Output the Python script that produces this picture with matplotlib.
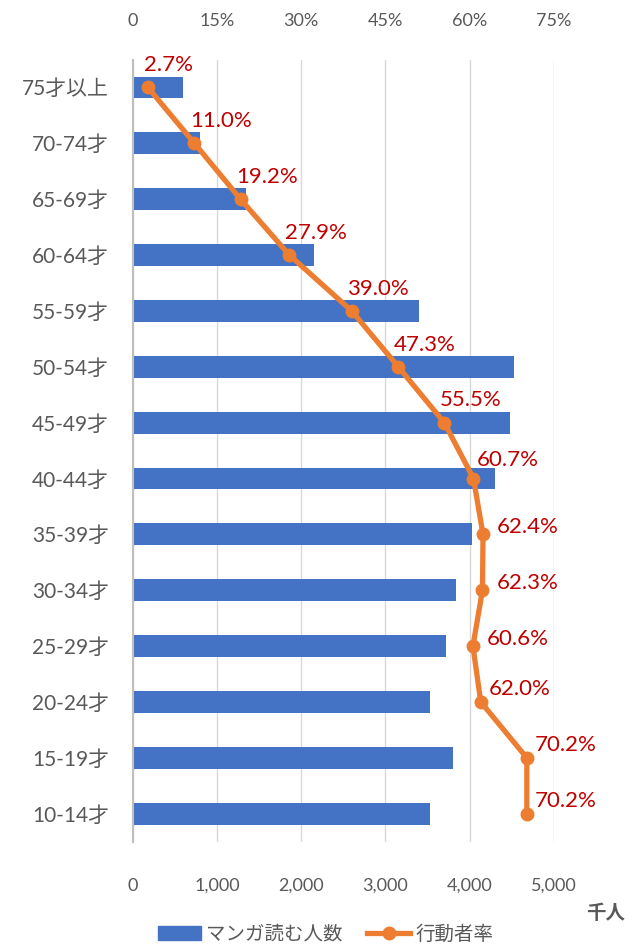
import matplotlib
matplotlib.use('Agg')
import matplotlib.pyplot as plt
import numpy as np
from matplotlib.lines import Line2D
from matplotlib.patches import Patch

plt.rcParams['font.family'] = ['Lato', 'Noto Sans CJK JP', 'DejaVu Sans']

####################################################
# Data (top row first)
####################################################
age_groups = ['75才以上', '70-74才', '65-69才', '60-64才', '55-59才', '50-54才', '45-49才',
              '40-44才', '35-39才', '30-34才', '25-29才', '20-24才', '15-19才', '10-14才']
readers = [600, 800, 1350, 2150, 3400, 4530, 4480, 4300, 4030, 3840, 3720, 3530, 3800, 3530]
rate = [2.7, 11.0, 19.2, 27.9, 39.0, 47.3, 55.5, 60.7, 62.4, 62.3, 60.6, 62.0, 70.2, 70.2]

x_ticks = [0, 1000, 2000, 3000, 4000, 5000]
pct_ticks = [0, 15, 30, 45, 60, 75]

####################################################
# Plot
####################################################
gray = '#595959'
blue = '#4472C4'
orange = '#ED7D31'
red = '#C00000'

fig = plt.figure(figsize=(6.32, 9.46), dpi=100)
ax = fig.add_axes([0.21, 0.1103, 0.6662, 0.8268])

y = np.arange(len(age_groups))
ax.barh(y, readers, height=0.39, color=blue, zorder=2)
ax.set_ylim(len(age_groups) - 0.5, -0.5)
ax.set_xlim(0, 5000)
ax.set_yticks(y)
ax.set_yticklabels(age_groups)
ax.set_xticks(x_ticks)
ax.set_xticklabels(['0'] + [f'{v:,}' for v in x_ticks[1:]])
ax.tick_params(axis='y', length=0, pad=17, labelsize=15, labelcolor=gray)
ax.tick_params(axis='x', length=0, pad=26, labelsize=13, labelcolor=gray)
ax.grid(axis='x', color='#D9D9D9', linewidth=1, zorder=0)
for s in ['top', 'right', 'bottom']:
    ax.spines[s].set_visible(False)
ax.spines['left'].set_color('#BFBFBF')
ax.spines['left'].set_linewidth(1.5)
ax.spines['left'].set_zorder(3)

ax2 = ax.twiny()
ax2.set_xlim(0, 75)
ax2.set_xticks(pct_ticks)
ax2.set_xticklabels(['0'] + [f'{v}%' for v in pct_ticks[1:]])
ax2.tick_params(axis='x', length=0, pad=22, labelsize=13, labelcolor=gray)
for s in ax2.spines.values():
    s.set_visible(False)
ax2.plot(rate, y, color=orange, linewidth=3.8, marker='o', markersize=9,
         solid_capstyle='round', zorder=4)

# data labels: above the point for the older groups, to the right for the younger
for i, (r, yy) in enumerate(zip(rate, y)):
    if i < 7:
        off = (-3, 16)
    elif i == 7:
        off = (2, 13.5)
    elif i <= 10:
        off = (10, 5)
    else:
        off = (6, 9)
    ax2.annotate(f'{r:.1f}%', (r, yy), xytext=off, textcoords='offset points',
                 ha='left', va='center', color=red, fontsize=16, annotation_clip=False)

fig.text(0.958, 0.035, '千人', ha='center', va='center', fontsize=14,
         color=gray, fontweight='bold')

handles = [Patch(color=blue),
           Line2D([0], [0], color=orange, linewidth=3.8, marker='o', markersize=9)]
fig.legend(handles, ['マンガ読む人数', '行動者率'], loc='center',
           bbox_to_anchor=(0.515, 0.013), ncol=2, frameon=False, fontsize=14,
           labelcolor=gray, handlelength=2.2, columnspacing=1.3, handletextpad=0.25)

fig.savefig('out.png', dpi=100)
